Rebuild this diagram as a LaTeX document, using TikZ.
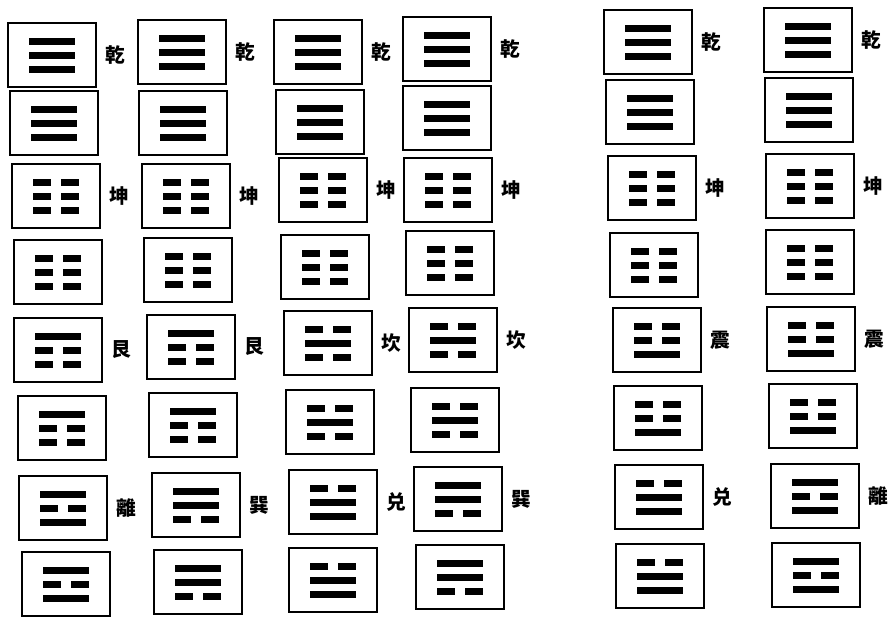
\documentclass[tikz,border=0pt]{standalone}
\usepackage{fontspec}
\newfontfamily\cjk{Noto Sans CJK TC}
\usepackage{tikz}

% one line of a trigram: node, vertical offset, 1 = solid / 0 = broken
\newcommand{\yao}[3]{%
  \ifnum#3=1
    \fill ([shift={(-23,#2-3.5)}]#1.center) rectangle ([shift={(23,#2+3.5)}]#1.center);
  \else
    \fill ([shift={(-23,#2-3.5)}]#1.center) rectangle ([shift={(-5,#2+3.5)}]#1.center);
    \fill ([shift={(5,#2-3.5)}]#1.center) rectangle ([shift={(23,#2+3.5)}]#1.center);
  \fi}
% trigram, lines from top to bottom
\newcommand{\gua}[4]{\yao{#1}{-14}{#2}\yao{#1}{0}{#3}\yao{#1}{14}{#4}}

\begin{document}
\begin{tikzpicture}[
    x=0.025cm, y=-0.025cm,
    label distance=0.08cm,
    gbox/.style={draw, line width=1.4pt, minimum width=2.2cm, minimum height=1.58cm, inner sep=0pt},
    lab/.style={font=\cjk\bfseries\fontsize{14}{14}\selectfont},
]
\useasboundingbox (0,0) rectangle (896,618);

% Column 1
\node[gbox, label={[lab]right:乾}] (a1) at (52,55) {};  \gua{a1}{1}{1}{1}
\node[gbox] (a2) at (54,123) {};                       \gua{a2}{1}{1}{1}
\node[gbox, label={[lab]right:坤}] (a3) at (56,196) {}; \gua{a3}{0}{0}{0}
\node[gbox] (a4) at (58,272) {};                       \gua{a4}{0}{0}{0}
\node[gbox, label={[lab]right:艮}] (a5) at (58,350) {}; \gua{a5}{1}{0}{0}
\node[gbox] (a6) at (62,428) {};                       \gua{a6}{1}{0}{0}
\node[gbox, label={[lab]right:離}] (a7) at (63,508) {}; \gua{a7}{1}{0}{1}
\node[gbox] (a8) at (66,584) {};                       \gua{a8}{1}{0}{1}

% Column 2
\node[gbox, label={[lab]right:乾}] (b1) at (182,52) {};  \gua{b1}{1}{1}{1}
\node[gbox] (b2) at (183,123) {};                       \gua{b2}{1}{1}{1}
\node[gbox, label={[lab]right:坤}] (b3) at (186,196) {}; \gua{b3}{0}{0}{0}
\node[gbox] (b4) at (188,270) {};                       \gua{b4}{0}{0}{0}
\node[gbox, label={[lab]right:艮}] (b5) at (191,347) {}; \gua{b5}{1}{0}{0}
\node[gbox] (b6) at (193,425) {};                       \gua{b6}{1}{0}{0}
\node[gbox, label={[lab]right:巽}] (b7) at (196,505) {}; \gua{b7}{1}{1}{0}
\node[gbox] (b8) at (198,582) {};                       \gua{b8}{1}{1}{0}

% Column 3
\node[gbox, label={[lab]right:乾}] (c1) at (318,52) {};  \gua{c1}{1}{1}{1}
\node[gbox] (c2) at (320,122) {};                       \gua{c2}{1}{1}{1}
\node[gbox, label={[lab]right:坤}] (c3) at (323,190) {}; \gua{c3}{0}{0}{0}
\node[gbox] (c4) at (325,267) {};                       \gua{c4}{0}{0}{0}
\node[gbox, label={[lab]right:坎}] (c5) at (328,343) {}; \gua{c5}{0}{1}{0}
\node[gbox] (c6) at (330,422) {};                       \gua{c6}{0}{1}{0}
\node[gbox, label={[lab]right:兑}] (c7) at (333,502) {}; \gua{c7}{0}{1}{1}
\node[gbox] (c8) at (333,580) {};                       \gua{c8}{0}{1}{1}

% Column 4
\node[gbox, label={[lab]right:乾}] (d1) at (447,49) {};  \gua{d1}{1}{1}{1}
\node[gbox] (d2) at (447,118) {};                       \gua{d2}{1}{1}{1}
\node[gbox, label={[lab]right:坤}] (d3) at (448,190) {}; \gua{d3}{0}{0}{0}
\node[gbox] (d4) at (450,263) {};                       \gua{d4}{0}{0}{0}
\node[gbox, label={[lab]right:坎}] (d5) at (453,340) {}; \gua{d5}{0}{1}{0}
\node[gbox] (d6) at (455,420) {};                       \gua{d6}{0}{1}{0}
\node[gbox, label={[lab]right:巽}] (d7) at (458,499) {}; \gua{d7}{1}{1}{0}
\node[gbox] (d8) at (460,577) {};                       \gua{d8}{1}{1}{0}

% Column 5
\node[gbox, label={[lab]right:乾}] (e1) at (648,42) {};  \gua{e1}{1}{1}{1}
\node[gbox] (e2) at (650,112) {};                       \gua{e2}{1}{1}{1}
\node[gbox, label={[lab]right:坤}] (e3) at (652,188) {}; \gua{e3}{0}{0}{0}
\node[gbox] (e4) at (654,265) {};                       \gua{e4}{0}{0}{0}
\node[gbox, label={[lab]right:震}] (e5) at (657,340) {}; \gua{e5}{0}{0}{1}
\node[gbox] (e6) at (658,418) {};                       \gua{e6}{0}{0}{1}
\node[gbox, label={[lab]right:兑}] (e7) at (659,497) {}; \gua{e7}{0}{1}{1}
\node[gbox] (e8) at (660,576) {};                       \gua{e8}{0}{1}{1}

% Column 6
\node[gbox, label={[lab]right:乾}] (f1) at (808,40) {};  \gua{f1}{1}{1}{1}
\node[gbox] (f2) at (809,110) {};                       \gua{f2}{1}{1}{1}
\node[gbox, label={[lab]right:坤}] (f3) at (810,186) {}; \gua{f3}{0}{0}{0}
\node[gbox] (f4) at (810,262) {};                       \gua{f4}{0}{0}{0}
\node[gbox, label={[lab]right:震}] (f5) at (811,339) {}; \gua{f5}{0}{0}{1}
\node[gbox] (f6) at (813,416) {};                       \gua{f6}{0}{0}{1}
\node[gbox, label={[lab]right:離}] (f7) at (815,496) {}; \gua{f7}{1}{0}{1}
\node[gbox] (f8) at (816,575) {};                       \gua{f8}{1}{0}{1}
\end{tikzpicture}
\end{document}
